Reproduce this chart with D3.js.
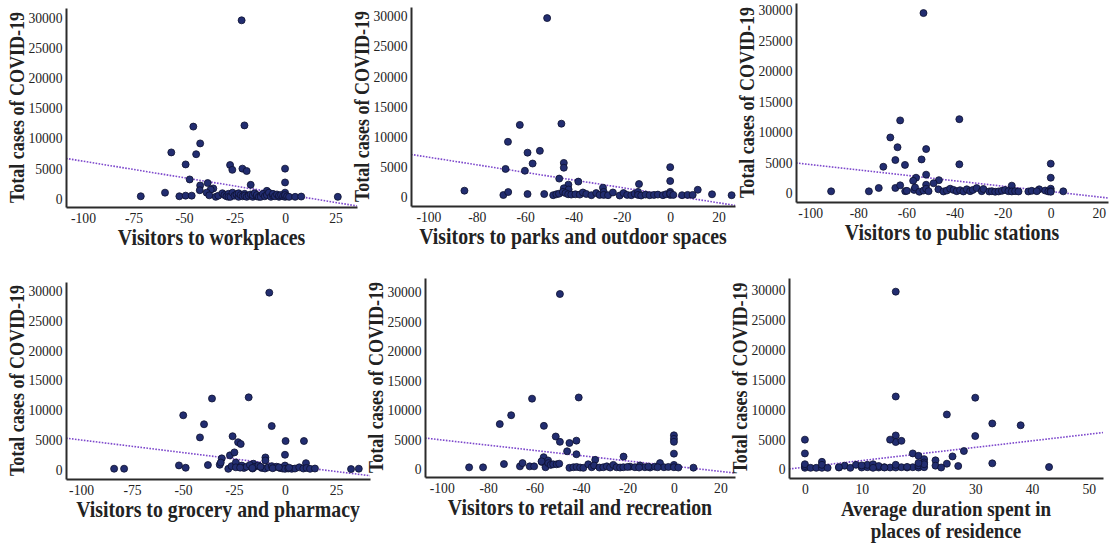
<!DOCTYPE html>
<html><head><meta charset="utf-8">
<script src="https://cdn.jsdelivr.net/npm/d3@7"></script>
<style>body{margin:0;background:#fff} svg{display:block}</style>
</head><body>
<svg id="chart" width="1115" height="544"></svg>
<script>
// ---------- DATA (x = mobility change / duration, y = total COVID-19 cases) ----------
const yTicks = [0, 5000, 10000, 15000, 20000, 25000, 30000];
const yLabel = "Total cases of COVID-19";

const workplacesTicks = [-100, -75, -50, -25, 0, 25];
const workplacesTrend = [640, -55];          // [intercept, slope]
const workplaces = [
 [-21.5,29600],[-45.4,11900],[-20.1,12100],[-42,9100],[-56.3,7600],[-44,7300],[-49.2,5600],[-27.2,5500],
 [-26.1,4700],[-21.1,4900],[-19,4500],[0,4900],[0,2600],[-47.2,3100],[-38.3,2500],[-42,2100],[-17,2200],
 [-42.2,1300],[-35.5,1600],[-36.8,1400],[-38.8,900],[-71.4,300],[-59.4,900],[-52.3,300],[-49.2,400],
 [-46.2,400],[-37.5,450],[-34.3,200],[26.1,200],[0,900],[-9,1200],
 [-33,400],[-31,800],[-30,500],[-29,300],[-28,700],[-28,200],[-27,200],[-26,900],[-25,400],[-24,600],
 [-23,200],[-23,800],[-22,500],[-21,300],[-20,700],[-20,400],[-19,200],[-18,400],[-17,600],[-16,200],
 [-16,500],[-15,800],[-14,300],[-14,500],[-13,200],[-12,400],[-12,200],[-11,700],[-10,300],[-9,500],
 [-8,900],[-7,200],[-6,400],[-6,700],[-5,300],[-4,600],[-3,200],[-3,400],[-2,500],[-1,300],[0,200],
 [0,500],[1,300],[2,200],[5,200],[8,250]
];

const parksTicks = [-100, -80, -60, -40, -20, 0, 20];
const parksTrend = [250, -63];
const parks = [
 [-50.9,29600],[-62.2,11900],[-45,12100],[-67.1,9100],[-53.9,7600],[-59,7300],[-56.9,5500],[-44,5600],
 [-44,4800],[-68.1,4600],[-60.1,4300],[-45.9,3000],[-38,2500],[-42.1,2000],[-12.9,2100],[0,4900],[0,2600],
 [-27.8,1500],[-85.1,1000],[-69,280],[-67,770],[-59,440],[-52.1,440],[11.4,1150],[17.3,400],[25.4,250],
 [-44,1400],[-42,1200],
 [-48.4,250],[-47.1,400],[-46,500],[-44.4,800],[-43.3,600],[-42.2,400],[-40.9,350],[-39.2,400],[-37.4,350],
 [-36.1,700],[-34.7,450],[-32.6,250],[-30.6,600],[-29.2,300],[-27.5,800],[-27.5,300],[-25.7,250],[-23.7,700],
 [-20.9,200],[-19.3,600],[-17.8,300],[-16.1,250],[-14.7,500],[-13.3,800],[-13.3,300],[-12,200],[-10.2,350],
 [-8.5,250],[-6.7,300],[-5.1,350],[-3,250],[-1.7,400],[0,300],[0,800],[0,500],[1.3,300],[4.9,250],[7.2,300],
 [9.3,300]
];

const stationsTicks = [-100, -80, -60, -40, -20, 0, 20];
const stationsTrend = [235, -44.3];
const stations = [
 [-52.9,29500],[-62.6,11900],[-38,12100],[-66.7,9100],[-63.7,7500],[-51.8,7200],[-53.7,5500],[-64.6,5400],
 [-60.6,4600],[-38,4700],[-69.6,4300],[0,4800],[0,2500],[-51.8,3000],[-56,2500],[-57.2,2000],[-46.5,2100],
 [-48.7,1600],[-16.2,1200],[-91.3,270],[-75.6,270],[-71.5,820],[-64.6,820],[-62.6,1250],[-51.8,1350],
 [-4.8,600],[5.2,270],
 [-60.5,300],[-59.8,350],[-56.8,500],[-56.4,900],[-54.6,200],[-52.9,400],[-51.8,700],[-50.8,300],[-46.7,600],
 [-44.6,250],[-43.2,400],[-41.8,700],[-40.4,500],[-39.1,300],[-37.7,450],[-36.3,250],[-34.9,600],[-33.5,300],
 [-32.4,500],[-30.8,800],[-28.7,300],[-28,650],[-25.6,250],[-24.5,300],[-23.1,200],[-21.7,250],[-20.3,350],
 [-19,500],[-17.6,300],[-16.2,250],[-14.8,300],[-13.4,250],[-9.3,250],[-7.9,350],[-5.8,300],[-2.3,400],
 [-1,250],[0,700],[0,300],[0,200]
];

const groceryTicks = [-100, -75, -50, -25, 0, 25];
const groceryTrend = [758, -42.1];
const grocery = [
 [-7.7,29600],[-35.8,11900],[-17.8,12100],[-49.9,9100],[-39.7,7600],[-6.5,7300],[-41.7,5400],[-25.7,5600],
 [-23,4600],[-21.7,4300],[0.3,4800],[9.3,4800],[0,2500],[-27,2400],[-24.8,2900],[-31,1900],[-9.6,2050],
 [-9.6,1550],[10.3,1100],[-15.5,1000],[-83.8,170],[-78.9,170],[-52,720],[-48.7,330],[-37.8,780],[-32,830],
 [-31.5,1200],[32.4,110],[36.2,170],
 [-27.8,150],[-26.2,600],[-24.1,1200],[-24.1,400],[-21.2,700],[-20.1,300],[-18.8,500],[-17.2,800],[-15.9,200],
 [-14.7,500],[-13.1,700],[-11.4,300],[-9.8,200],[-8.2,400],[-6.5,600],[-4.1,500],[-2.5,300],[-1.2,200],
 [0,700],[0,150],[1.6,200],[3.3,150],[4.9,200],[7,400],[9,200],[10.6,300],[12.3,150],[14.7,200],[-22,350],
 [-16,300],[-12,500],[-6,250],[-3,400],[2,350]
];

const retailTicks = [-100, -80, -60, -40, -20, 0, 20];
const retailTrend = [487, -44.3];
const retail = [
 [-49.1,29600],[-61.1,11900],[-41,12100],[-70.1,9100],[-75,7600],[-56,7300],[-50.9,5500],[-49.1,4600],
 [-45,4400],[-42,4800],[0,5700],[0,5100],[0,4600],[0,2600],[-46,3000],[-42,2500],[-56.1,2000],[-21.7,2100],
 [-56.9,1200],[-54.2,1450],[-33.9,1550],[8.4,230],[-88.2,280],[-82.2,280],[-73.2,840],[-66.3,450],
 [-65.2,1000],[-62.1,450],[-60.2,450],
 [-57,1300],[-55.3,300],[-54.1,1000],[-53.1,700],[-52,800],[-50.5,800],[-49.4,900],[-45,200],[-43.3,300],
 [-41.9,350],[-40.4,250],[-39,200],[-36.9,800],[-35.4,300],[-34.4,600],[-32.1,250],[-30.4,300],[-28.9,450],
 [-27.5,250],[-26.1,700],[-24.7,300],[-23.2,250],[-21.8,300],[-18.9,400],[-16.8,300],[-14.6,600],[-12.5,300],
 [-10.3,250],[-8.2,400],[-6,1000],[-4.3,300],[-2.4,350],[0,700],[0,300],[1.9,250],[-20,350],[-15,250],
 [-11,400],[-7,300]
];

const residenceTicks = [0, 10, 20, 30, 40, 50];
const residenceTrend = [308, 110];
const residence = [
 [16,29600],[16,12100],[30,11900],[25,9100],[33,7600],[38,7300],[30,5500],[16,5600],[16,4500],[15,4900],
 [17,4700],[0,4900],[0,2600],[19,2600],[20,2200],[28,3000],[26,2100],[21,1650],[23,1450],[21,1100],[3,1200],
 [23,560],[25,890],[33,950],[27,500],[43,330],[24,250],
 [0,200],[0,500],[0,800],[1,200],[2,200],[3,200],[3,700],[4,200],[6,250],[7,550],[8,200],[9,700],[10,250],
 [11,300],[11,700],[12,300],[12,800],[13,250],[13,500],[14,300],[15,250],[16,250],[17,300],[18,250],[19,300],
 [20,250],[20,600],[21,300],[21,800],[6,300],[10,600],[12,200],[14,250],[16,700],[18,350],[20,1000]
];

// ---------- LAYOUT ----------
const panels = [
 {data: workplaces, ticks: workplacesTicks, trend: workplacesTrend, label: ["Visitors to workplaces"],
  box: {l: 66, r: 357, t: 8, b: 207}, xDom: [-108.4, 35.6], yDom: [-1490, 31650]},
 {data: parks, ticks: parksTicks, trend: parksTrend, label: ["Visitors to parks and outdoor spaces"],
  box: {l: 411, r: 735, t: 7, b: 206}, xDom: [-107.2, 26.8], yDom: [-1540, 31440]},
 {data: stations, ticks: stationsTicks, trend: stationsTrend, label: ["Visitors to public stations"],
  box: {l: 796, r: 1108, t: 3, b: 202}, xDom: [-105.9, 23.8], yDom: [-1480, 31150]},
 {data: grocery, ticks: groceryTicks, trend: groceryTrend, label: ["Visitors to grocery and pharmacy"],
  box: {l: 66, r: 370, t: 282, b: 479}, xDom: [-107.4, 41.7], yDom: [-1550, 31380]},
 {data: retail, ticks: retailTicks, trend: retailTrend, label: ["Visitors to retail and recreation"],
  box: {l: 425, r: 735, t: 278, b: 477}, xDom: [-107.2, 26.3], yDom: [-1350, 32310]},
 {data: residence, ticks: residenceTicks, trend: residenceTrend, label: ["Average duration spent in", "places of residence"],
  box: {l: 789, r: 1103, t: 278, b: 478}, xDom: [-2.8, 52.5], yDom: [-1500, 31880]}
];

const FONT = "'Liberation Serif','Times New Roman',Times,serif";
const SQ = 0.88;   // the source figure's lettering is horizontally condensed
const svg = d3.select("#chart");
const fmt = d => String(d);

panels.forEach(p => {
  const {l, r, t, b} = p.box;
  const x = d3.scaleLinear().domain(p.xDom).range([l, r]);
  const y = d3.scaleLinear().domain(p.yDom).range([b, t]);
  const g = svg.append("g");

  // trend line
  const [ic, sl] = p.trend;
  g.append("line")
    .attr("x1", x(p.xDom[0])).attr("y1", y(ic + sl * p.xDom[0]))
    .attr("x2", x(p.xDom[1])).attr("y2", y(ic + sl * p.xDom[1]))
    .attr("stroke", "#7d48cc").attr("stroke-width", 1.6)
    .attr("stroke-dasharray", "1.6,1.4");

  // points
  g.append("g").selectAll("circle").data(p.data).join("circle")
    .attr("cx", d => x(d[0])).attr("cy", d => y(d[1])).attr("r", 3.5)
    .attr("fill", "#222d70").attr("stroke", "#0c1030").attr("stroke-width", 0.8);

  // axes
  const ya = g.append("g").attr("transform", `translate(${l},0)`)
    .call(d3.axisLeft(y).tickValues(yTicks).tickSize(0).tickPadding(4).tickFormat(fmt));
  const xa = g.append("g").attr("transform", `translate(0,${b})`)
    .call(d3.axisBottom(x).tickValues(p.ticks).tickSize(0).tickPadding(5).tickFormat(fmt));
  [ya, xa].forEach(a => {
    a.select(".domain").attr("stroke", "#2b2b2b").attr("stroke-width", 2);
    a.selectAll("text").attr("font-family", FONT).attr("font-size", 15.5).attr("fill", "#222")
      .attr("transform", `scale(${SQ},1)`);
  });

  // y label
  g.append("text")
    .attr("transform", `translate(${l - 49},${(t + b) / 2}) rotate(-90) scale(${SQ},1)`)
    .attr("text-anchor", "middle").attr("dominant-baseline", "central")
    .attr("font-family", FONT).attr("font-weight", "bold").attr("font-size", 20.5).attr("fill", "#222")
    .text(yLabel);

  // x label (two-line label uses a slightly smaller size so the lines do not collide)
  const two = p.label.length > 1;
  const fs = two ? 20 : 22.5;
  p.label.forEach((s, i) => {
    g.append("text")
      .attr("transform", `translate(${(l + r) / 2},${b + 38 + i * 22}) scale(${two ? 0.95 : SQ},1)`)
      .attr("text-anchor", "middle")
      .attr("font-family", FONT).attr("font-weight", "bold").attr("font-size", fs).attr("fill", "#222")
      .text(s);
  });
});
</script>
</body></html>
